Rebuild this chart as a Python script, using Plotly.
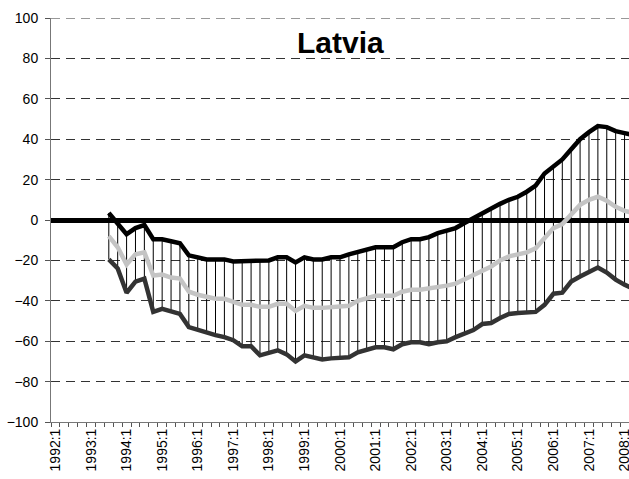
import plotly.graph_objs as go

# quarters 1992:1 .. 2008:2, data starts in 1993:3
years = list(range(1992, 2009))
quarters = [str(y) + ":" + str(q) for y in years for q in (1, 2, 3, 4)][:66]
first = 6

upper = [3.5, -1.5, -7, -4, -2.5, -9.5, -9.5, -10.5, -11.5, -17.5,
         -18.5, -19.5, -19.5, -19.5, -20.5, -20.5, -20.5, -20.5, -20, -18.5,
         -18.5, -21, -18.5, -19.5, -19.5, -18.5, -18.5, -17, -16, -15,
         -13.5, -13.5, -13.5, -11, -9.5, -9.5, -8.5, -6.5, -5.5, -4,
         -1.5, 1, 3, 5.5, 8, 10, 11.5, 14, 17, 23,
         26.5, 30, 35, 40, 43.5, 46.5, 46, 44, 43, 42]

middle = [-8, -13.5, -22, -17, -16, -27.5, -27, -28.5, -29, -35.5,
          -37, -38, -39, -39, -40.5, -42, -42, -43, -43, -41.5,
          -41.5, -45, -42.5, -43.5, -43.5, -43, -43, -42.5, -40, -38.5,
          -37.5, -37.5, -37.5, -35.5, -34.5, -34.5, -34, -33, -32.5, -31.5,
          -29.5, -27, -25, -23, -20, -18, -17, -16, -14, -9,
          -4, -2, 3, 7.5, 10, 11.5, 9.5, 6.5, 4.5, 3.5]

lower = [-19.5, -24, -36, -30.5, -29, -45.5, -44, -45.5, -46.5, -53,
         -54.5, -56, -57, -58, -59.5, -62.5, -62.5, -67, -65.5, -64.5,
         -66.5, -70, -67, -68, -69, -68.5, -68.5, -68, -65.5, -64,
         -63, -63, -64, -61.5, -60.5, -60.5, -61.5, -60.5, -60, -58,
         -56, -54.5, -51.5, -51, -48.5, -46.5, -46, -46, -45.5, -42,
         -36.5, -36, -30.5, -28, -25.5, -23.5, -26, -29.5, -32, -34]

xs = list(range(first, first + len(upper)))

# high-low bars between upper and lower
barX = []
barY = []
for x, hi, lo in zip(xs, upper, lower):
    barX += [x, x, None]
    barY += [hi, lo, None]

bars = go.Scatter(x = barX, y = barY, mode = "lines",
                  line = dict(color = "black", width = 1), hoverinfo = "skip")
trMid = go.Scatter(x = xs, y = middle, mode = "lines",
                   line = dict(color = "#c4c4c4", width = 4.5))
trLow = go.Scatter(x = xs, y = lower, mode = "lines",
                   line = dict(color = "#333333", width = 4.5))
trUp = go.Scatter(x = xs, y = upper, mode = "lines",
                  line = dict(color = "black", width = 4.5))

tickPos = list(range(0, len(quarters), 4))[:17]

L, R, T, B = 51, 0, 18, 57
W, H = 629, 479

layout = dict(
    width = W, height = H,
    margin = dict(l = L, r = R, t = T, b = B),
    paper_bgcolor = "white", plot_bgcolor = "white",
    showlegend = False,
    font = dict(family = "Liberation Sans, Arial", color = "black"),
    xaxis = dict(range = [-0.5, 64.5], tickmode = "array", automargin = False,
                 tickvals = tickPos, ticktext = [quarters[i] for i in tickPos],
                 tickangle = -90, tickfont = dict(size = 14),
                 ticklabeloverflow = "allow",
                 ticks = "", showgrid = False, zeroline = False,
                 showline = True, linecolor = "#777777", linewidth = 1,
                 minor = dict(tickmode = "array",
                              tickvals = [i - 0.5 for i in range(len(quarters))],
                              ticks = "outside", ticklen = 4,
                              tickcolor = "#555555", showgrid = False)),
    yaxis = dict(range = [-100, 100], dtick = 20, tickfont = dict(size = 14),
                 automargin = False,
                 ticks = "outside", ticklen = 5, tickcolor = "#555555",
                 ticklabelstandoff = 4,
                 showgrid = True, gridcolor = "#333333", gridwidth = 1,
                 griddash = "9px,6px",
                 zeroline = True, zerolinecolor = "black", zerolinewidth = 5,
                 showline = True, linecolor = "#777777", linewidth = 1),
    # top gridline at 100 (plotly skips the one on the plot edge)
    shapes = [dict(type = "line", xref = "paper", x0 = 0, x1 = 1,
                   yref = "y", y0 = 100, y1 = 100, layer = "below",
                   line = dict(color = "#333333", width = 1, dash = "9px,6px"))],
    annotations = [dict(text = "<b>Latvia</b>",
                        x = (340 - L) / (W - L - R),
                        y = 1 - (42.5 - T) / (H - T - B),
                        xref = "paper", yref = "paper", showarrow = False,
                        yanchor = "middle", font = dict(size = 30))],
)

fig = go.Figure(data = [bars, trMid, trLow, trUp], layout = layout)
# page body has an 8px default margin, drop it so the figure fills the window
fig.write_html("out.html", config = {"displayModeBar": False},
               post_script = "document.body.style.margin = '0px';")
